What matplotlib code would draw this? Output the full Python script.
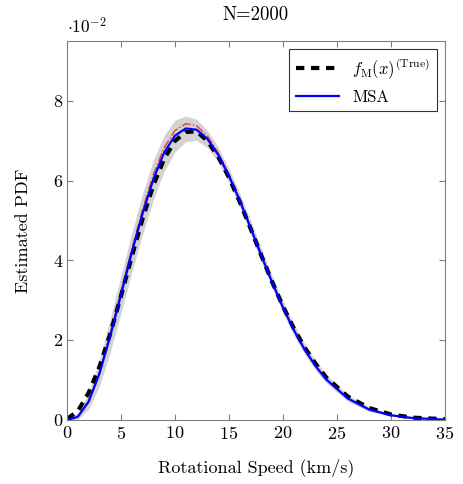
import numpy as np
import matplotlib
matplotlib.use("Agg")
import matplotlib.pyplot as plt
import matplotlib.ticker as mtick

# Values (x in km/s, y as PDF)
speed = [0, 1, 2, 3, 4, 5, 6, 7, 8, 9, 10, 11, 12, 13, 14, 15, 16, 17, 18,
         19, 20, 21, 22, 23, 24, 26, 28, 30, 32, 35]
true_pdf = [0.0003, 0.0022, 0.0068, 0.0133, 0.0216, 0.0311, 0.0410, 0.0505,
            0.0589, 0.0655, 0.0700, 0.0722, 0.0724, 0.0700, 0.0661, 0.0608,
            0.0547, 0.0480, 0.0412, 0.0346, 0.0285, 0.0230, 0.0182, 0.0142,
            0.0107, 0.0059, 0.0030, 0.0014, 0.0006, 0.0002]
msa_pdf = [0.0000, 0.0008, 0.0046, 0.0116, 0.0210, 0.0314, 0.0420, 0.0518,
           0.0604, 0.0671, 0.0713, 0.0731, 0.0728, 0.0705, 0.0665, 0.0612,
           0.0550, 0.0482, 0.0412, 0.0345, 0.0282, 0.0226, 0.0177, 0.0136,
           0.0102, 0.0054, 0.0026, 0.0012, 0.0005, 0.0001]
alt_pdf = [0.0000, 0.0009, 0.0048, 0.0120, 0.0217, 0.0322, 0.0429, 0.0528,
           0.0616, 0.0683, 0.0726, 0.0743, 0.0738, 0.0712, 0.0670, 0.0615,
           0.0552, 0.0484, 0.0414, 0.0346, 0.0283, 0.0227, 0.0178, 0.0137,
           0.0103, 0.0055, 0.0027, 0.0012, 0.0005, 0.0001]
band_upper = [0.0002, 0.0018, 0.0068, 0.0150, 0.0254, 0.0362, 0.0470, 0.0568,
              0.0652, 0.0714, 0.0752, 0.0762, 0.0754, 0.0726, 0.0684, 0.0630,
              0.0568, 0.0500, 0.0430, 0.0362, 0.0299, 0.0242, 0.0192, 0.0150,
              0.0114, 0.0063, 0.0033, 0.0016, 0.0007, 0.0002]
band_lower = [0.0000, 0.0002, 0.0027, 0.0085, 0.0170, 0.0268, 0.0370, 0.0466,
              0.0553, 0.0624, 0.0672, 0.0698, 0.0701, 0.0683, 0.0647, 0.0595,
              0.0534, 0.0467, 0.0397, 0.0331, 0.0269, 0.0213, 0.0165, 0.0125,
              0.0093, 0.0047, 0.0021, 0.0010, 0.0004, 0.0001]

x_ticks = [0, 5, 10, 15, 20, 25, 30, 35]
y_ticks = [0, 0.02, 0.04, 0.06, 0.08]

plt.rcParams["font.family"] = "serif"
plt.rcParams["font.serif"] = ["cmr10", "DejaVu Serif"]
plt.rcParams["mathtext.fontset"] = "cm"
plt.rcParams["axes.formatter.use_mathtext"] = True

fig = plt.figure(figsize=(4.63, 4.84), dpi=100)
ax = fig.add_axes([0.1447, 0.1322, 0.8163, 0.7828])

ax.fill_between(speed, band_lower, band_upper, color="#d3d3d3", linewidth=0)
ax.plot(speed, alt_pdf, color="#ff3030", linestyle="-.", linewidth=1.0)
ax.plot(speed, true_pdf, color="black", linestyle=(0, (2.0, 1.6)),
        linewidth=3.0, label=r"$f_{\mathrm{M}}(x)^{(\mathrm{True})}$")
ax.plot(speed, msa_pdf, color="blue", linewidth=1.6, label="MSA")

ax.set_xlim(0, 35)
ax.set_ylim(0, 0.095)
ax.set_xticks(x_ticks)
ax.set_yticks(y_ticks)
ax.yaxis.set_major_formatter(mtick.FuncFormatter(lambda v, p: f"{v * 100:.0f}"))
ax.tick_params(direction="in", top=True, right=True, color="#808080",
               labelsize=13, length=4)
for s in ax.spines.values():
    s.set_color("#808080")

ax.set_title("N=2000", fontsize=13.5, pad=15)
ax.set_xlabel("Rotational Speed (km/s)", fontsize=13, labelpad=12)
ax.set_ylabel("Estimated PDF", fontsize=13, labelpad=16)
ax.text(0.0, 1.012, r"$\cdot 10^{-2}$", transform=ax.transAxes, fontsize=12.5,
        ha="left", va="bottom")

leg = ax.legend(loc="upper right", fontsize=12, frameon=True, fancybox=False,
                edgecolor="black", handlelength=2.6, borderaxespad=0.5)
leg.get_frame().set_linewidth(0.8)

fig.savefig("out.png", dpi=100)
